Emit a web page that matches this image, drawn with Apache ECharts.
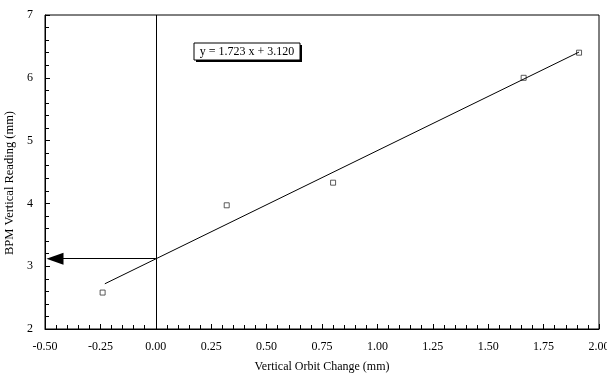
<!DOCTYPE html>
<html>
<head>
<meta charset="utf-8">
<script src="https://cdn.jsdelivr.net/npm/echarts@6/dist/echarts.min.js"></script>
<style>
html,body{margin:0;padding:0;background:#fff;}
#chart{width:607px;height:375px;}
</style>
</head>
<body>
<div id="chart"></div>
<script>
// measured points
var orbitChange = [-0.24, 0.32, 0.80, 1.66, 1.91];
var bpmReading = [2.58, 3.97, 4.33, 6.00, 6.40];
// fitted line end points
var fitX = [-0.23, 1.91];
var fitY = [2.72, 6.41];
var crossY = 3.12; // intercept, arrow to the axis
var equation = 'y = 1.723 x + 3.120';

var font = 'Liberation Serif';
var chart = echarts.init(document.getElementById('chart'));

var pts = [];
for (var i = 0; i < orbitChange.length; i++) {
	pts.push([orbitChange[i], bpmReading[i]]);
}
var fit = [];
for (var j = 0; j < fitX.length; j++) {
	fit.push([fitX[j], fitY[j]]);
}

var option = {
	animation: false,
	grid: {left: 45, right: 8, top: 15, bottom: 46, outerBoundsMode: 'none', show: true, borderColor: '#000', borderWidth: 1},
	xAxis: {
		type: 'value', min: -0.5, max: 2, interval: 0.25,
		name: 'Vertical Orbit Change (mm)', nameLocation: 'middle', nameGap: 32,
		nameTextStyle: {fontFamily: font, fontSize: 12, color: '#000'},
		axisLine: {onZero: false, lineStyle: {color: '#000'}},
		axisTick: {inside: true, length: 5, lineStyle: {color: '#000'}},
		minorTick: {show: true, splitNumber: 5, length: 4, lineStyle: {color: '#000'}},
		splitLine: {show: false},
		axisLabel: {fontFamily: font, fontSize: 12, color: '#000', margin: 12,
			formatter: function(v){ return v.toFixed(2); }}
	},
	yAxis: {
		type: 'value', min: 2, max: 7, interval: 1,
		name: 'BPM Vertical Reading (mm)', nameLocation: 'middle', nameGap: 16,
		nameTextStyle: {fontFamily: font, fontSize: 12.5, color: '#000', padding: [0, 22, 0, 0]},
		axisLine: {show: true, onZero: false, lineStyle: {color: '#000'}},
		axisTick: {show: true, inside: true, length: 5, lineStyle: {color: '#000'}},
		minorTick: {show: true, splitNumber: 5, length: 4, lineStyle: {color: '#000'}},
		splitLine: {show: false},
		axisLabel: {fontFamily: font, fontSize: 12, color: '#000', margin: 12}
	},
	series: [
		{
			type: 'line', data: fit, symbol: 'none',
			lineStyle: {color: '#000', width: 1},
			markLine: {
				silent: true,
				label: {show: false},
				lineStyle: {color: '#000', width: 1, type: 'solid'},
				data: [
					[{coord: [0, 2], symbol: 'none'}, {coord: [0, 7], symbol: 'none'}],
					[{coord: [0, crossY], symbol: 'none'}, {coord: [-0.455, crossY], symbol: 'triangle', symbolSize: [12, 17]}]
				]
			}
		},
		{
			type: 'scatter', data: pts, symbol: 'rect', symbolSize: 5,
			itemStyle: {color: '#fff', borderColor: '#333', borderWidth: 1}
		}
	],
	graphic: [
		{type: 'rect', shape: {x: 196, y: 45, width: 106, height: 17}, style: {fill: '#000'}},
		{type: 'rect', shape: {x: 194, y: 43, width: 106, height: 17}, style: {fill: '#fff', stroke: '#000', lineWidth: 1}},
		{type: 'text', x: 247, y: 52, style: {text: equation, font: '12px "Liberation Serif"', fill: '#000', align: 'center', verticalAlign: 'middle'}}
	]
};
chart.setOption(option);
</script>
</body>
</html>
